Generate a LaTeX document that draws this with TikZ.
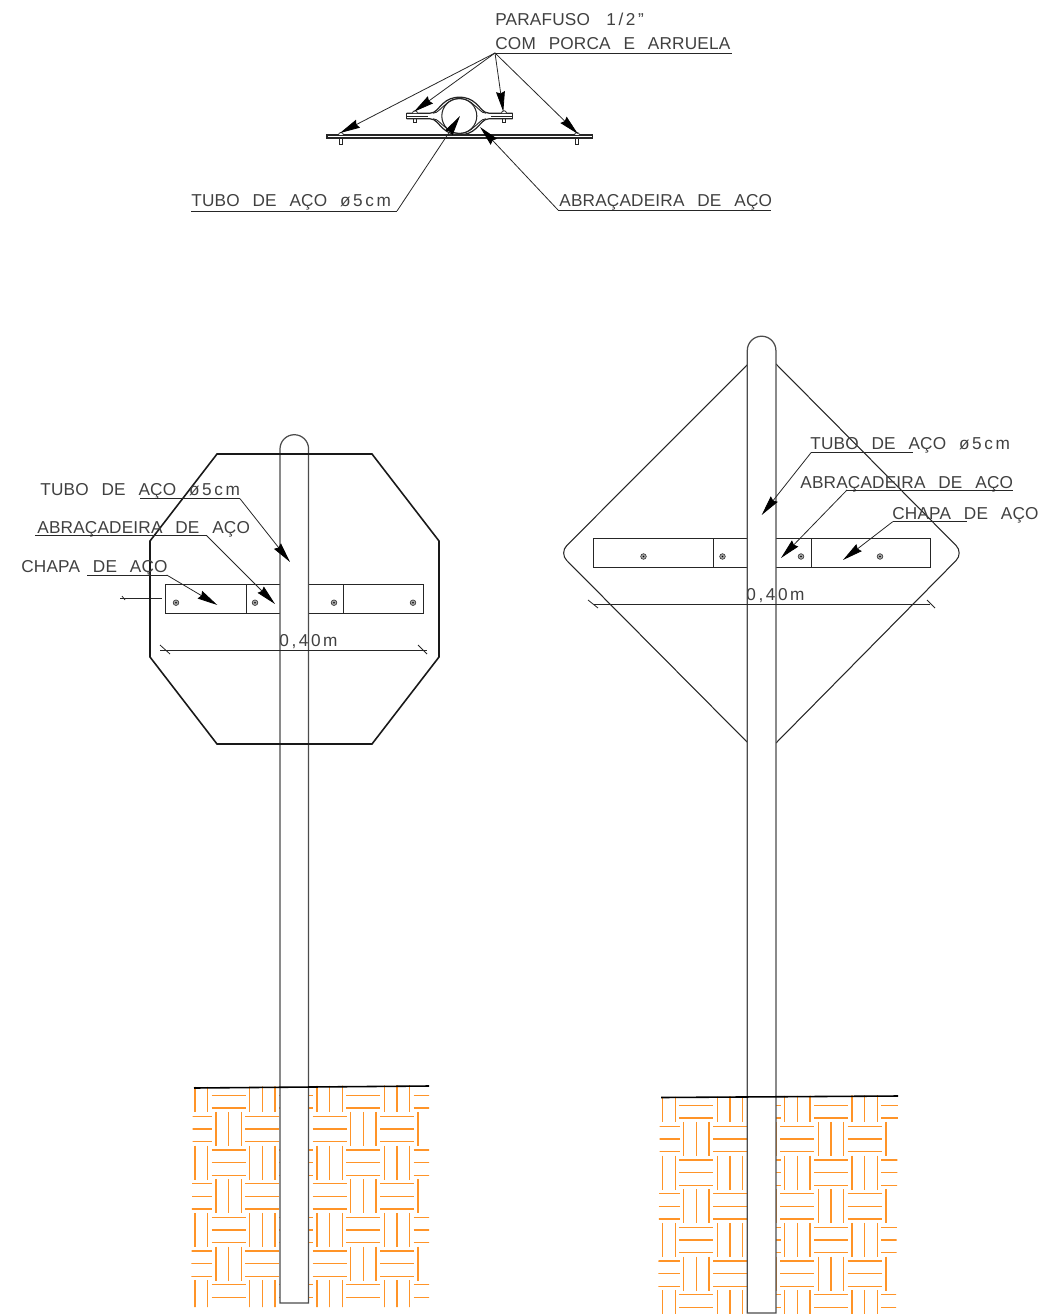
\documentclass[tikz,border=0pt]{standalone}
\usepackage{fontspec}
\setmainfont[LetterSpace=1,WordSpace=2.6]{Liberation Sans}
\newfontfamily\widefont[LetterSpace=15]{Liberation Sans}
\usepackage{tikz}
\usetikzlibrary{arrows.meta, positioning, calc}
\definecolor{soil}{RGB}{255,148,40}
\begin{document}
\begin{tikzpicture}[x=0.02cm, y=-0.02cm,
    txt/.style={font=\fontsize{9.8}{12}\selectfont, text=black!75, inner sep=0pt, anchor=base west},
    thin line/.style={line width=0.45pt, black!85},
    band/.style={line width=0.55pt, black!85},
    leader/.style={thin line, -{Stealth[length=11.5pt, width=5pt, inset=1pt, black]}},
    tube/.style={fill=white, draw=black!70, line width=0.7pt},
    ground/.style={line width=0.9pt, black},
    hatch/.style={soil, line width=0.8pt},
    bolt/.style={circle, draw=black!80, fill=black!35, line width=0.35pt, minimum size=3.2pt, inner sep=0pt}
]
\useasboundingbox (0,0) rectangle (1039,1314);

% Soil hatching, left post
\begin{scope}
\clip (193,1087) -- (429,1085) -- (429,1307) -- (191,1307) -- cycle;
\foreach \c in {-1,...,7} {
    \foreach \r in {-1,...,6} {
        \pgfmathsetmacro{\cx}{195+33.67*\c}
        \pgfmathsetmacro{\cy}{1095.3+33.67*\r}
        \pgfmathtruncatemacro{\odd}{mod(\c+\r+20,2)}
        \foreach \d in {-12.6,0,12.6} {
            \ifnum\odd=0
                \draw[hatch] (\cx+\d,\cy-17) -- (\cx+\d,\cy+17);
            \else
                \draw[hatch] (\cx-17,\cy+\d) -- (\cx+17,\cy+\d);
            \fi
        }
    }
}
\end{scope}

% Soil hatching, right post
\begin{scope}
\clip (660,1097) -- (898,1095) -- (896,1314) -- (658,1314) -- cycle;
\foreach \c in {-1,...,7} {
    \foreach \r in {-1,...,6} {
        \pgfmathsetmacro{\cx}{662.7+33.67*\c}
        \pgfmathsetmacro{\cy}{1105.3+33.67*\r}
        \pgfmathtruncatemacro{\odd}{mod(\c+\r+20,2)}
        \foreach \d in {-12.6,0,12.6} {
            \ifnum\odd=0
                \draw[hatch] (\cx+\d,\cy-17) -- (\cx+\d,\cy+17);
            \else
                \draw[hatch] (\cx-17,\cy+\d) -- (\cx+17,\cy+\d);
            \fi
        }
    }
}
\end{scope}

% Plate behind left post
\draw[band] (165,584) rectangle (423,613);
\draw[band] (246,584) -- (246,613);
\draw[band] (343,584) -- (343,613);
\foreach \x/\n in {176/a,255/b,334/c,413/d} {
    \node[bolt] (l\n) at (\x,602.7) {};
    \node[circle, fill=black, inner sep=0pt, minimum size=1pt] at (l\n) {};
}
\draw[thin line] (120,598) -- (162,598);
\draw[thin line] (122,596) -- (125,600);

% Left post
\draw[tube] (280,1303) -- (280,449) arc[start angle=180, end angle=360, radius=14.3] -- (308.6,1303) -- cycle;
\draw[ground] (194,1088) -- (429,1086);

% Octagonal sign
\draw[line width=0.9pt, black!90] (217,454) -- (372,454) -- (439,541) -- (439,657) -- (372,744) -- (217,744) -- (150,657) -- (150,541) -- cycle;

% Rhombic sign
\draw[thin line, line width=0.6pt, rounded corners=6pt] (748,364) -- (559.3,553) -- (748,743);
\draw[thin line, line width=0.6pt, rounded corners=6pt] (776,364) -- (963.5,553) -- (776,743);
\draw[band] (593,538.5) rectangle (930,567);
\draw[band] (713.5,538.5) -- (713.5,567);
\draw[band] (811,538.5) -- (811,567);
\foreach \x/\n in {643.5/a,722.5/b,801/c,880/d} {
    \node[bolt] (r\n) at (\x,556.5) {};
    \node[circle, fill=black, inner sep=0pt, minimum size=1pt] at (r\n) {};
}

% Right post
\draw[tube] (747.3,1313) -- (747.3,350.5) arc[start angle=180, end angle=360, radius=14.3] -- (775.9,1313) -- cycle;
\draw[ground] (661,1097.5) -- (898,1096);

% Clamp section
\draw[band, line width=0.8pt] (327,135) rectangle (592.5,138);
\draw[thin line, line width=0.6pt] (459.3,116) circle[radius=17.5];
\foreach \f in {1,-1} {
    \draw[band, line width=0.7pt] (406.7,116-\f*2.8) -- (430,116-\f*2.8) .. controls (436,116-\f*3) and (438,116-\f*8) .. (443,116-\f*12.5) .. controls (452,116-\f*21) and (467,116-\f*21) .. (476,116-\f*12.5) .. controls (481,116-\f*8) and (483,116-\f*3) .. (489,116-\f*2.8) -- (512.7,116-\f*2.8);
    \draw[thin line, line width=0.5pt] (433,116-\f*2.8) .. controls (438,116-\f*3) and (440,116-\f*7.5) .. (445,116-\f*11) .. controls (453,116-\f*19.5) and (466,116-\f*19.5) .. (474,116-\f*11) .. controls (479,116-\f*7.5) and (481,116-\f*3) .. (486,116-\f*2.8);
}
\draw[band] (406.7,113.2) -- (406.7,118.8);
\draw[band] (512.7,113.2) -- (512.7,118.8);
\draw[band] (406.7,116) -- (428,116);
\draw[band] (491,116) -- (512.7,116);
\foreach \x/\y/\h in {341/138/6,577/138/6,415/118.8/3.5,504/118.8/3.5} {
    \draw[thin line] (\x-1.5,\y) rectangle (\x+1.5,\y+\h);
}
\foreach \x/\y in {341/135,577/135,415/113.2,504/113.2} {
    \draw[thin line, fill=white] (\x-2.5,\y) arc[start angle=180, end angle=360, radius=2.5];
}

% Dimensions
\draw[thin line] (160,650) -- (427,650);
\draw[thin line] (160,645) -- (170,654);
\draw[thin line] (418,645) -- (427,654);
\node[txt] (dimleft) at (279,646) {\widefont 0,40m};
\draw[thin line] (594,604.3) -- (930,604.3);
\draw[thin line] (588,600) -- (598,608);
\draw[thin line] (927,600) -- (935,608);
\node[txt] (dimright) at (746,600) {\widefont 0,40m};

% Labels of clamp section
\node[txt] (screw) at (495,26) {PARAFUSO\hspace{2pt} {\widefont 1/2”}};
\node[txt] (nut) at (495,50) {COM PORCA E ARRUELA};
\node[txt] (tubetop) at (191,207) {TUBO DE AÇO {\widefont ø5cm}};
\node[txt] (clamptop) at (559,207) {ABRAÇADEIRA DE AÇO};
\coordinate (nutline) at (495,53);
\draw[thin line] (nutline) -- (732,53);
\draw[thin line] (191,211) -- (397,211) coordinate (tubeline);
\draw[thin line] (558,210) coordinate (clampline) -- (771,210);
\draw[leader] (nutline) -- (340,133);
\draw[leader] (nutline) -- (414,111.7);
\draw[leader] (nutline) -- (503.3,111.7);
\draw[leader] (nutline) -- (578,134);
\draw[leader] (tubeline) -- (460,116);
\draw[leader] (clampline) -- (480,127);

% Labels of octagonal sign
\node[txt] (tubeleft) at (40,495) {TUBO DE AÇO {\widefont ø5cm}};
\node[txt] (clampleft) at (37,533) {ABRAÇADEIRA DE AÇO};
\node[txt] (plateleft) at (21,572) {CHAPA DE AÇO};
\draw[thin line] (140,498.7) -- (240,498.7) coordinate (tubeleftline);
\draw[thin line] (35,535.7) -- (206.7,535.7) coordinate (clampleftline);
\draw[thin line] (87,575) -- (166.7,575) coordinate (plateleftline);
\draw[leader] (tubeleftline) -- (290,562);
\draw[leader] (clampleftline) -- (275,604);
\draw[leader] (plateleftline) -- (217.3,605);

% Labels of rhombic sign
\node[txt] (tuberight) at (810,449) {TUBO DE AÇO {\widefont ø5cm}};
\node[txt] (clampright) at (800,488) {ABRAÇADEIRA DE AÇO};
\node[txt] (plateright) at (892,519) {CHAPA DE AÇO};
\draw[thin line] (811,452.7) coordinate (tuberightline) -- (913,452.7);
\draw[thin line] (847,490) coordinate (clamprightline) -- (1013,490);
\draw[thin line] (892.7,521.7) coordinate (platerightline) -- (967,521.7);
\draw[leader] (tuberightline) -- (761.7,515);
\draw[leader] (clamprightline) -- (781,558);
\draw[leader] (platerightline) -- (843,560);
\end{tikzpicture}
\end{document}
